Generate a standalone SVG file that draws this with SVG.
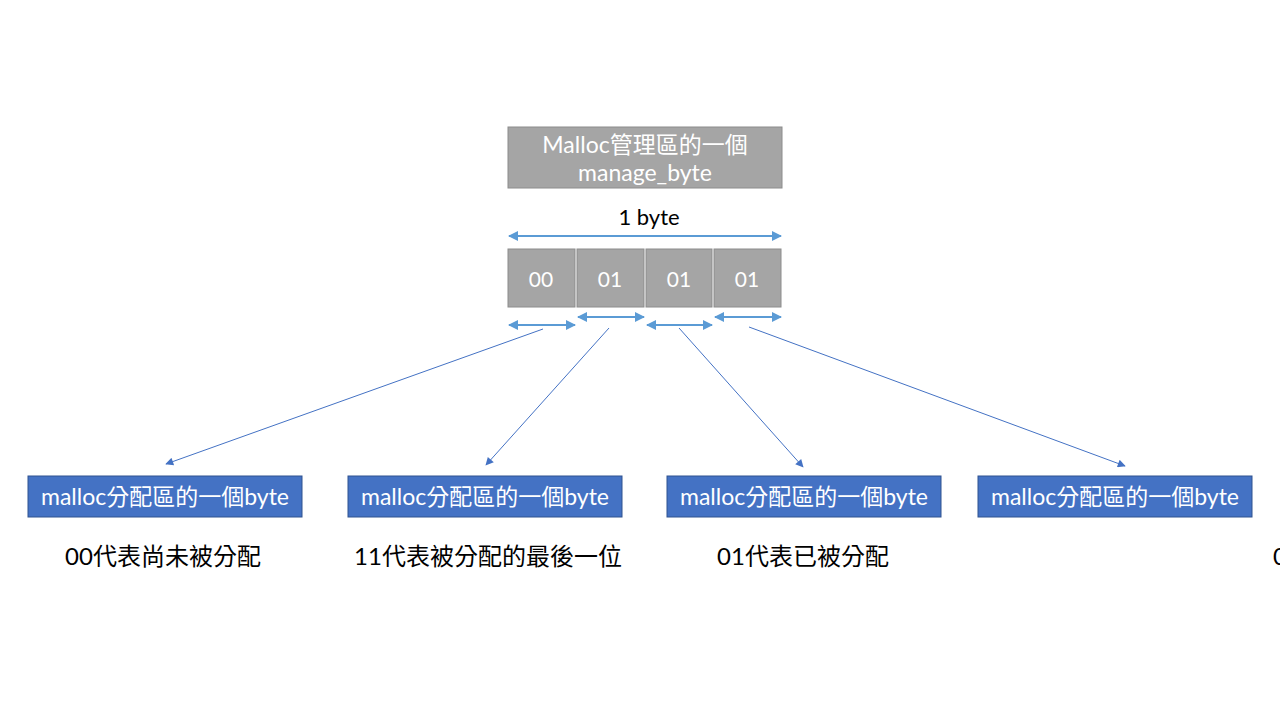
<svg xmlns="http://www.w3.org/2000/svg" width="1280" height="720" viewBox="0 0 1280 720">
<defs>
<style>
text{font-family:Lato,"Noto Sans CJK TC",sans-serif;}
.gray{fill:#a5a5a5;stroke:#8c8c8c;stroke-width:1;}
.blue{fill:#4472c4;stroke:#2f528f;stroke-width:1;}
.wt{fill:#ffffff;text-anchor:middle;dominant-baseline:central;}
.bt{fill:#000000;dominant-baseline:central;}
.dim{stroke:#5b9bd5;stroke-width:2;fill:none;marker-start:url(#ds);marker-end:url(#de);}
.con{stroke:#4472c4;stroke-width:1;fill:none;marker-end:url(#ae);}
</style>
<marker id="de" viewBox="0 0 10 10" refX="9" refY="5" markerWidth="5" markerHeight="5" orient="auto" markerUnits="strokeWidth"><path d="M0,0 L10,5 L0,10 Z" fill="#5b9bd5"/></marker>
<marker id="ds" viewBox="0 0 10 10" refX="1" refY="5" markerWidth="5" markerHeight="5" orient="auto" markerUnits="strokeWidth"><path d="M10,0 L0,5 L10,10 Z" fill="#5b9bd5"/></marker>
<marker id="ae" viewBox="0 0 10 10" refX="9" refY="5" markerWidth="10" markerHeight="8" orient="auto" markerUnits="strokeWidth"><path d="M0,0 L10,5 L0,10 Z" fill="#4472c4"/></marker>
</defs>
<rect width="1280" height="720" fill="#ffffff"/>
<g id="manage">
<rect class="gray" x="508" y="127" width="274" height="61"/>
<text class="wt" x="645" y="144" font-size="23">Malloc管理區的一個</text>
<text class="wt" x="645" y="172" font-size="23">manage_byte</text>
</g>
<g id="bytelabel">
<text class="bt" x="649" y="216" font-size="22" text-anchor="middle">1 byte</text>
</g>
<g id="cell0"><rect class="gray" x="508" y="249" width="67" height="58"/><text class="wt" x="541" y="278" font-size="21">00</text></g>
<g id="cell1"><rect class="gray" x="577" y="249" width="67" height="58"/><text class="wt" x="610" y="278" font-size="21">01</text></g>
<g id="cell2"><rect class="gray" x="646" y="249" width="66" height="58"/><text class="wt" x="679" y="278" font-size="21">01</text></g>
<g id="cell3"><rect class="gray" x="714" y="249" width="67" height="58"/><text class="wt" x="747" y="278" font-size="21">01</text></g>
<g id="block1"><rect class="blue" x="28" y="476" width="274" height="41"/><text class="wt" x="165" y="496" font-size="23">malloc分配區的一個byte</text></g>
<g id="block2"><rect class="blue" x="348" y="476" width="274" height="41"/><text class="wt" x="485" y="496" font-size="23">malloc分配區的一個byte</text></g>
<g id="block3"><rect class="blue" x="667" y="476" width="274" height="41"/><text class="wt" x="804" y="496" font-size="23">malloc分配區的一個byte</text></g>
<g id="block4"><rect class="blue" x="978" y="476" width="274" height="41"/><text class="wt" x="1115" y="496" font-size="23">malloc分配區的一個byte</text></g>
<g id="notes">
<text class="bt" x="163" y="555" font-size="24" text-anchor="middle">00代表尚未被分配</text>
<text class="bt" x="488" y="555" font-size="24" text-anchor="middle">11代表被分配的最後一位</text>
<text class="bt" x="803" y="555" font-size="24" text-anchor="middle">01代表已被分配</text>
<text class="bt" x="1273" y="555" font-size="24">0</text>
</g>
<g id="connectors">
<line class="dim" x1="509" y1="236" x2="781" y2="236"/>
<line class="dim" x1="509" y1="325" x2="575" y2="325"/>
<line class="dim" x1="578" y1="317" x2="644" y2="317"/>
<line class="dim" x1="647" y1="325" x2="712" y2="325"/>
<line class="dim" x1="715" y1="317" x2="781" y2="317"/>
<line class="con" x1="543" y1="329" x2="166" y2="464"/>
<line class="con" x1="609" y1="328" x2="486" y2="465"/>
<line class="con" x1="679" y1="328" x2="803" y2="467"/>
<line class="con" x1="749" y1="327" x2="1125" y2="466"/>
</g>
</svg>
